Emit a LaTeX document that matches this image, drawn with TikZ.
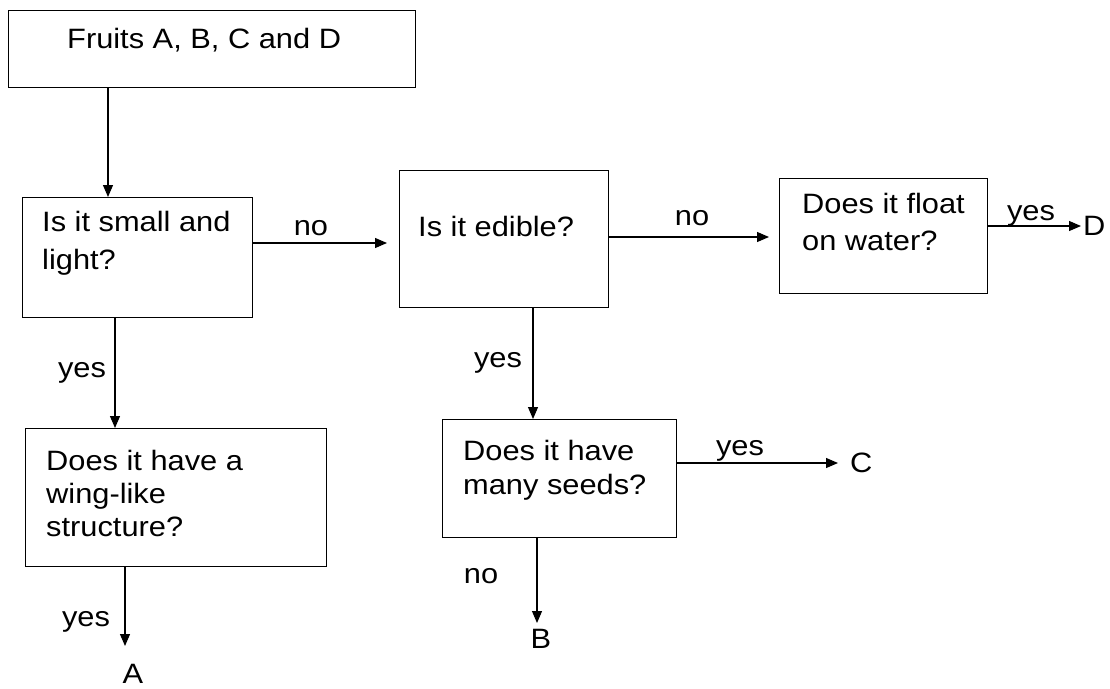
\documentclass[tikz,border=0pt]{standalone}
\usepackage{fontspec}
\setmainfont{Liberation Sans}[FakeStretch=1.1]
\usetikzlibrary{arrows.meta}
\tikzset{
  box/.style={draw=black, line width=1.1pt, fill=none, inner sep=0pt, anchor=north west},
  txt/.style={inner sep=0pt, anchor=base west, font=\fontsize{28}{34}\selectfont},
  lbl/.style={inner sep=0pt, anchor=base, font=\fontsize{28}{34}\selectfont},
  arr/.style={line width=1.1pt, -{Triangle[length=12pt,width=10pt]}},
}
\begin{document}
\begin{tikzpicture}[x=1pt,y=-1pt]
\useasboundingbox (0,0) rectangle (1110,688);
% boxes
\node[box, minimum width=407pt, minimum height=77pt] (b1) at (8,10) {};
\node[box, minimum width=230pt, minimum height=120pt] (b2) at (22,197) {};
\node[box, minimum width=209pt, minimum height=137pt] (b3) at (399,170) {};
\node[box, minimum width=208pt, minimum height=115pt] (b4) at (779,178) {};
\node[box, minimum width=301pt, minimum height=138pt] (b5) at (25,428) {};
\node[box, minimum width=234pt, minimum height=118pt] (b6) at (442,419) {};
% box texts
\node[txt] (t1) at (67,48) {Fruits A, B, C and D};
\node[txt] (t2a) at (42,231) {Is it small and};
\node[txt] (t2b) at (42,269) {light?};
\node[txt] (t3) at (418,236) {Is it edible?};
\node[txt] (t4a) at (802,213) {Does it float};
\node[txt] (t4b) at (802,250) {on water?};
\node[txt] (t5a) at (46,470) {Does it have a};
\node[txt] (t5b) at (46,503) {wing-like};
\node[txt] (t5c) at (46,536) {structure?};
\node[txt] (t6a) at (463,460) {Does it have};
\node[txt] (t6b) at (463,494) {many seeds?};
% end letters
\node[txt, anchor=west] (D) at (1083,226) {D};
\node[txt, anchor=west] (C) at (850,463) {C};
\node[lbl] (A) at (133,683) {A};
\node[lbl] (B) at (541,648) {B};
\coordinate (eA) at (125,646);
\coordinate (eB) at (537,623);
% labels
\node[lbl] (l1) at (311,235) {no};
\node[lbl] (l2) at (692,225) {no};
\node[lbl] (l3) at (1031,220) {yes};
\node[lbl] (l4) at (82,377) {yes};
\node[lbl] (l5) at (86,626) {yes};
\node[lbl] (l6) at (498,367) {yes};
\node[lbl] (l7) at (740,455) {yes};
\node[lbl] (l8) at (481,583) {no};
% connectors
\draw[arr] ([xshift=100pt]b1.south west) -- ([xshift=86pt]b2.north west);
\draw[arr, shorten >=12pt] ([yshift=-46pt]b2.north east) -- ([yshift=-73pt]b3.north west);
\draw[arr, shorten >=10pt] ([yshift=-67pt]b3.north east) -- ([yshift=-59pt]b4.north west);
\draw[arr, shorten >=2pt] ([yshift=-48pt]b4.north east) -- (D.west);
\draw[arr] ([xshift=93pt]b2.south west) -- ([xshift=90pt]b5.north west);
\draw[arr] ([xshift=100pt]b5.south west) -- (eA);
\draw[arr] ([xshift=134pt]b3.south west) -- ([xshift=91pt]b6.north west);
\draw[arr, shorten >=12pt] ([yshift=-44pt]b6.north east) -- (C.west);
\draw[arr] ([xshift=95pt]b6.south west) -- (eB);
\end{tikzpicture}
\end{document}
